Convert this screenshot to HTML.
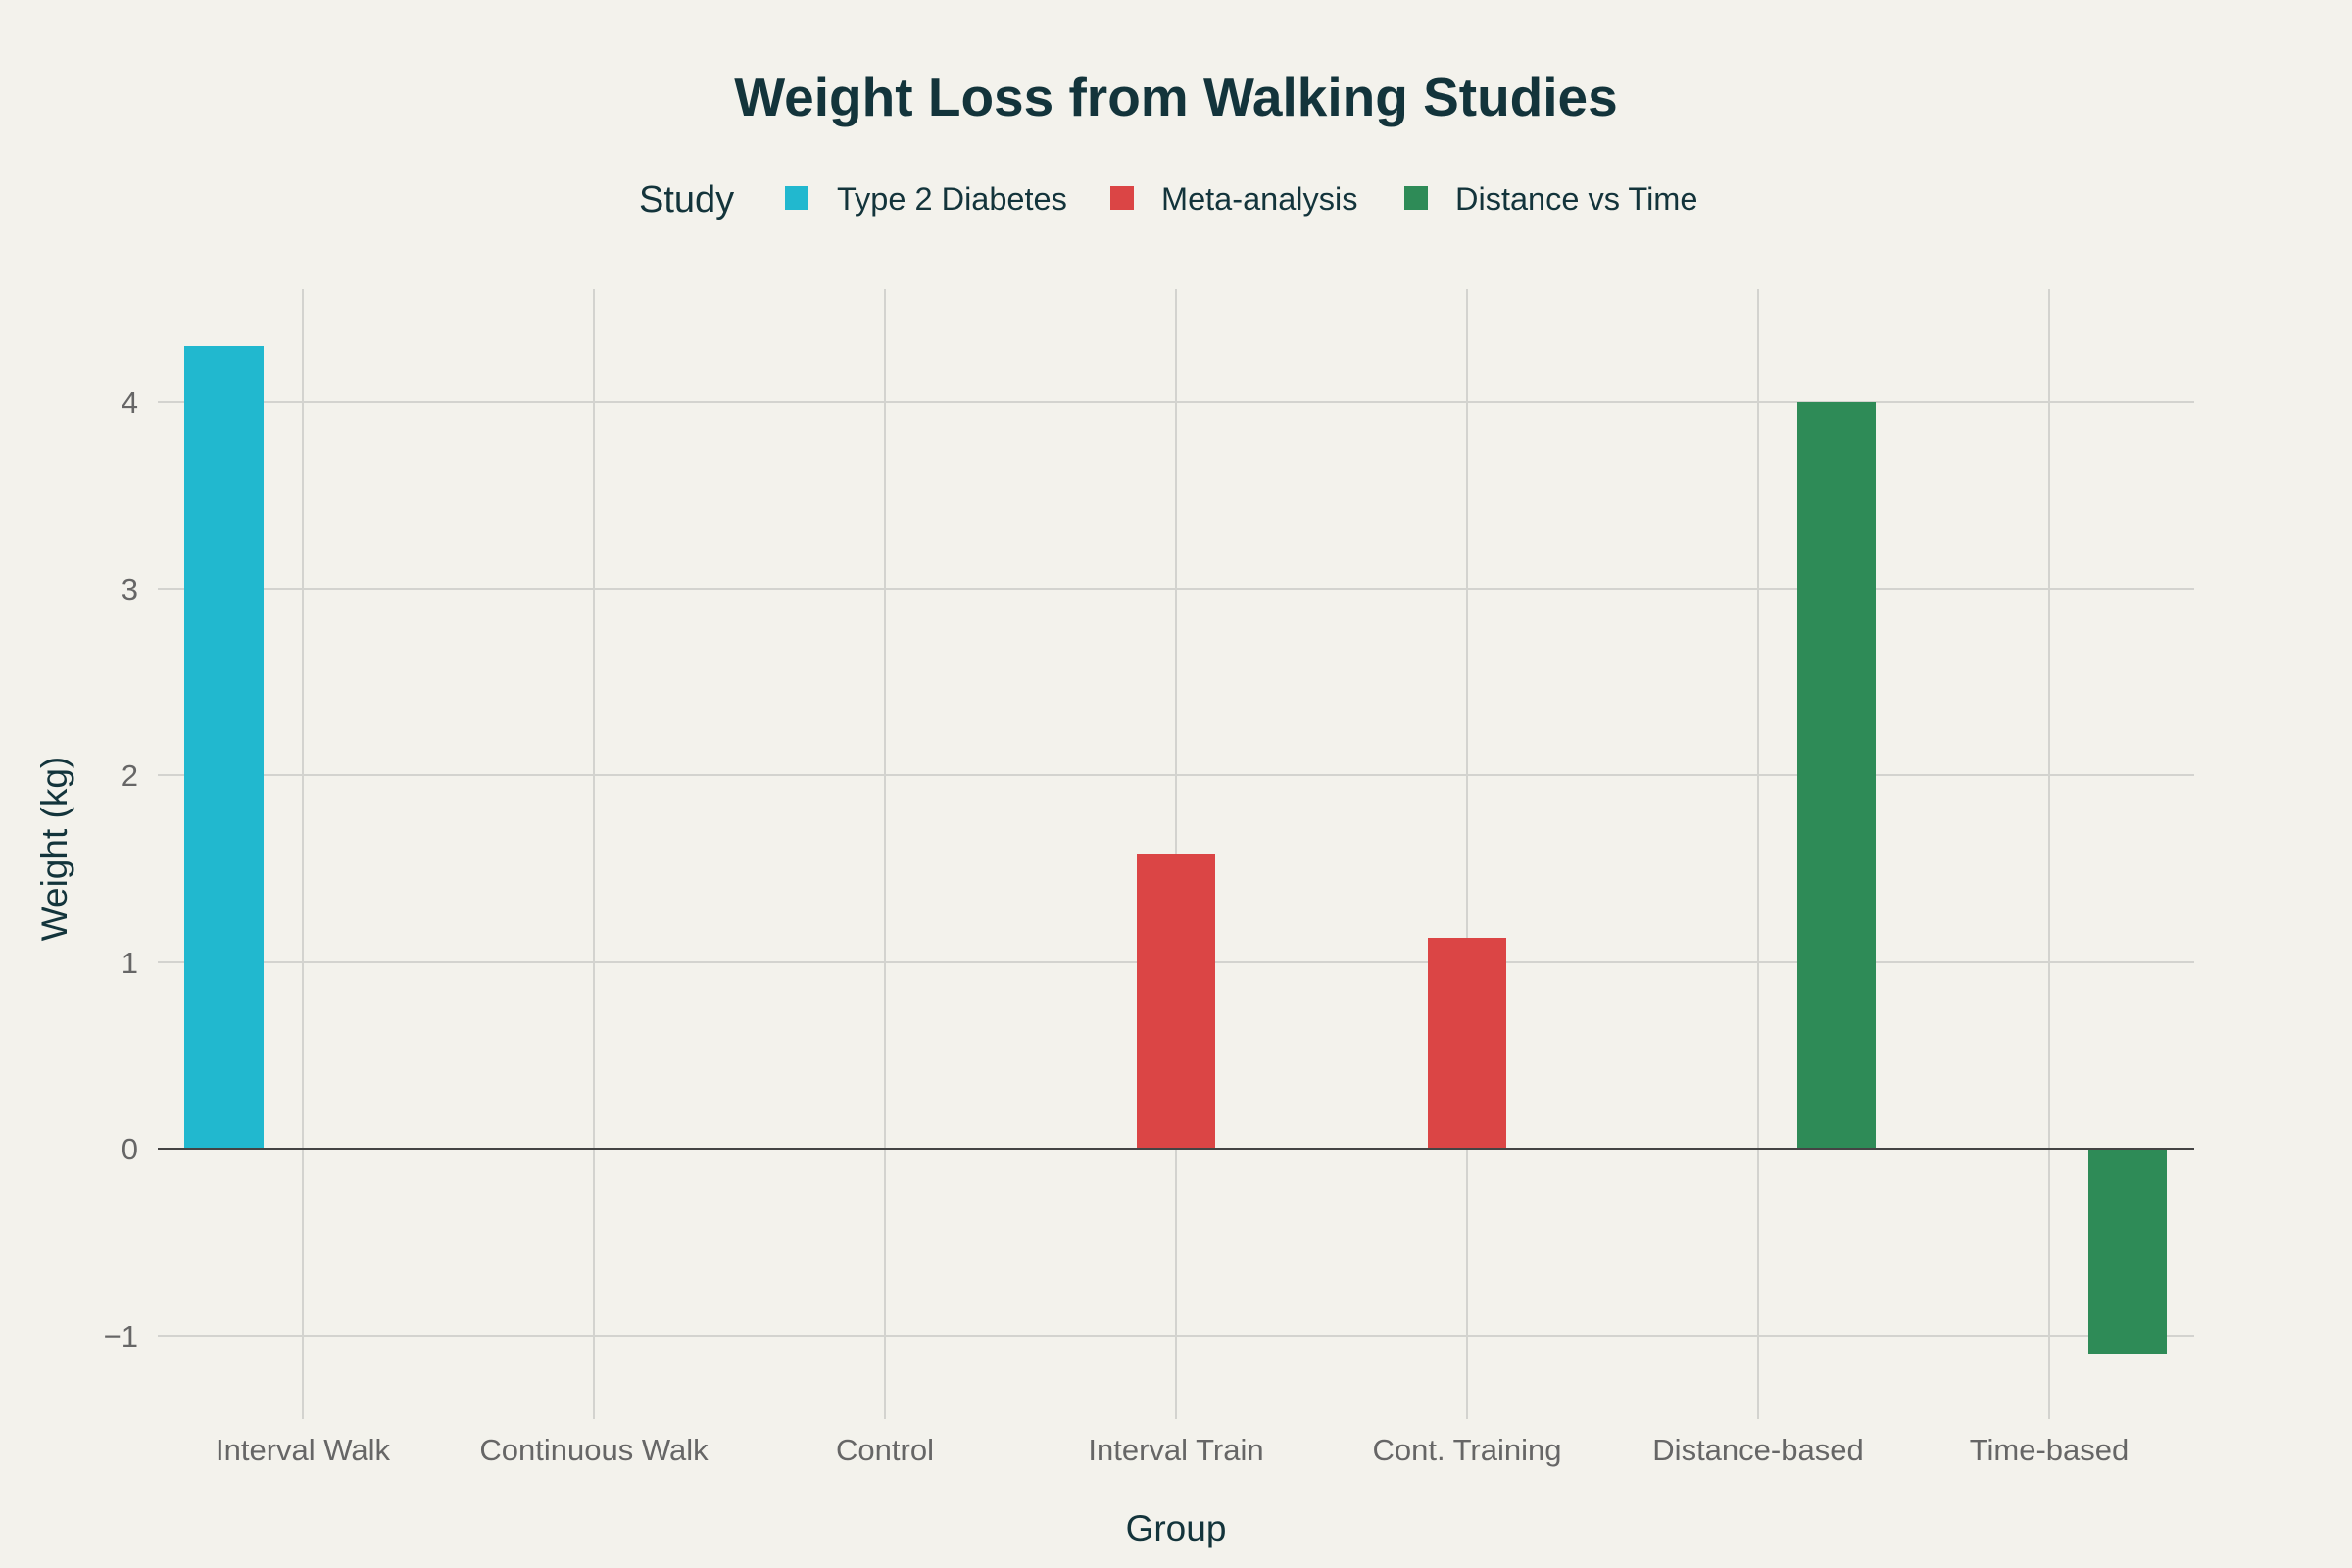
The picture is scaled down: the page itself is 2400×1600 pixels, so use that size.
<!DOCTYPE html>
<html><head><meta charset="utf-8"><style>
html,body{margin:0;padding:0;background:#f3f2ec;}
svg{display:block;font-family:"Liberation Sans",sans-serif;}
</style></head><body>
<svg width="2400" height="1600" viewBox="0 0 2400 1600" xmlns="http://www.w3.org/2000/svg">
<rect width="2400" height="1600" fill="#f3f2ec"/>
<text x="1200" y="118" text-anchor="middle" font-size="55" font-weight="bold" fill="#13343b">Weight Loss from Walking Studies</text>
<g font-size="32.5" fill="#13343b">
<text x="652" y="216" font-size="38">Study</text>
<rect x="801" y="190" width="24" height="24" fill="#21b8cf"/>
<text x="854" y="214">Type 2 Diabetes</text>
<rect x="1133" y="190" width="24" height="24" fill="#db4545"/>
<text x="1185" y="214">Meta-analysis</text>
<rect x="1433" y="190" width="24" height="24" fill="#2e8b57"/>
<text x="1485" y="214">Distance vs Time</text>
</g>
<g stroke="#d3d3cf" stroke-width="2">
<line x1="161" x2="2239" y1="410" y2="410"/>
<line x1="161" x2="2239" y1="601" y2="601"/>
<line x1="161" x2="2239" y1="791" y2="791"/>
<line x1="161" x2="2239" y1="982" y2="982"/>
<line x1="161" x2="2239" y1="1363" y2="1363"/>
<line x1="309" x2="309" y1="295" y2="1448"/>
<line x1="606" x2="606" y1="295" y2="1448"/>
<line x1="903" x2="903" y1="295" y2="1448"/>
<line x1="1200" x2="1200" y1="295" y2="1448"/>
<line x1="1497" x2="1497" y1="295" y2="1448"/>
<line x1="1794" x2="1794" y1="295" y2="1448"/>
<line x1="2091" x2="2091" y1="295" y2="1448"/>
</g>
<rect x="188" y="353" width="81" height="819" fill="#21b8cf"/>
<rect x="1160" y="871" width="80" height="301" fill="#db4545"/>
<rect x="1457" y="957" width="80" height="215" fill="#db4545"/>
<rect x="1834" y="410" width="80" height="762" fill="#2e8b57"/>
<rect x="2131" y="1172" width="80" height="210" fill="#2e8b57"/>
<line x1="161" x2="2239" y1="1172" y2="1172" stroke="#444" stroke-width="2"/>
<g font-size="31" fill="#666" text-anchor="end">
<text x="141" y="421">4</text>
<text x="141" y="612">3</text>
<text x="141" y="802">2</text>
<text x="141" y="993">1</text>
<text x="141" y="1183">0</text>
<text x="141" y="1374">−1</text>
</g>
<g font-size="31" fill="#666" text-anchor="middle">
<text x="309" y="1490">Interval Walk</text>
<text x="606" y="1490">Continuous Walk</text>
<text x="903" y="1490">Control</text>
<text x="1200" y="1490">Interval Train</text>
<text x="1497" y="1490">Cont. Training</text>
<text x="1794" y="1490">Distance-based</text>
<text x="2091" y="1490">Time-based</text>
</g>
<text x="1200" y="1572" text-anchor="middle" font-size="37" fill="#13343b">Group</text>
<text transform="translate(68,866) rotate(-90)" text-anchor="middle" font-size="37" fill="#13343b">Weight (kg)</text>
</svg>
</body></html>
